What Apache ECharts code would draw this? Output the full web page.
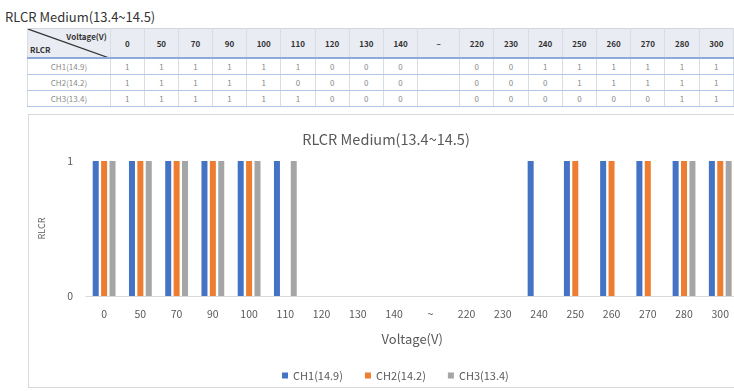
<!DOCTYPE html>
<html>
<head>
<meta charset="utf-8">
<script src="https://cdn.jsdelivr.net/npm/echarts@6/dist/echarts.min.js"></script>
<style>
  html, body { margin: 0; padding: 0; background: #fff; }
  body { width: 734px; height: 391px; overflow: hidden; position: relative;
         font-family: "Noto Sans CJK KR", "Noto Sans", sans-serif; }
  #heading { position: absolute; left: 5px; top: 7px; font-size: 13px; color: #333; white-space: nowrap; }
  #tbl { position: absolute; left: 27px; top: 28px; border-collapse: collapse; table-layout: fixed;
         font-size: 8px; color: #8a8a8a; }
  #tbl td, #tbl th { border-left: 1px solid #d8dce4; border-right: 1px solid #d8dce4; padding: 0;
                     text-align: center; white-space: nowrap; overflow: hidden; }
  #tbl th { background: #e9ecf2; color: #333; font-weight: bold; height: 28px; font-size: 8px;
            border-bottom: 2px solid #8eaadb; border-top: 1px solid #d0d5de; }
  #tbl td { height: 15px; border-bottom: 1px solid #b4c6e7; }
  #tbl th.corner { position: relative; text-align: left; }
  #tbl th.corner svg { position: absolute; left: 0; top: 0; }
  #tbl th.corner .v { position: absolute; right: 3px; top: 2px; }
  #tbl th.corner .r { position: absolute; left: 2px; bottom: 2px; }
  #chart { position: absolute; left: 28px; top: 114px; width: 716px; height: 274px;
           border: 1px solid #d9d9d9; box-sizing: border-box; }
</style>
</head>
<body>
<div id="heading">RLCR Medium(13.4~14.5)</div>
<table id="tbl"></table>
<div id="chart"></div>
<script>
// Voltage steps; "~" marks the skipped range between 140 V and 220 V
const categories = ['0', '50', '70', '90', '100', '110', '120', '130', '140', '~', '220', '230', '240', '250', '260', '270', '280', '300'];
const seriesNames = ['CH1(14.9)', 'CH2(14.2)', 'CH3(13.4)'];
const ch1 = [1, 1, 1, 1, 1, 1, 0, 0, 0, '-', 0, 0, 1, 1, 1, 1, 1, 1];
const ch2 = [1, 1, 1, 1, 1, 0, 0, 0, 0, '-', 0, 0, 0, 1, 1, 1, 1, 1];
const ch3 = [1, 1, 1, 1, 1, 1, 0, 0, 0, '-', 0, 0, 0, 0, 0, 0, 1, 1];
const colors = ['#4472C4', '#ED7D31', '#A5A5A5'];
const chartTitle = 'RLCR Medium(13.4~14.5)';
const xName = 'Voltage(V)';
const yName = 'RLCR';

// ---- summary table above the chart ----
const tbl = document.getElementById('tbl');
const colW = categories.map(c => (c === '~' ? 43 : 34.7));
let html = '<colgroup><col style="width:84px">' + colW.map(w => `<col style="width:${w}px">`).join('') + '</colgroup>';
html += '<tr><th class="corner"><svg width="84" height="30"><line x1="0" y1="0" x2="84" y2="30" stroke="#333" stroke-width="1.2"/></svg>' +
        '<span class="v">Voltage(V)</span><span class="r">RLCR</span></th>' +
        categories.map(c => `<th>${c === '~' ? '–' : c}</th>`).join('') + '</tr>';
[ch1, ch2, ch3].forEach((row, i) => {
  html += `<tr><td>${seriesNames[i]}</td>` + row.map(v => `<td>${v === '-' ? '' : v}</td>`).join('') + '</tr>';
});
tbl.innerHTML = html;

// ---- bar chart ----
const chart = echarts.init(document.getElementById('chart'), null, { renderer: 'canvas' });
const font = '"Noto Sans CJK KR", "Noto Sans", sans-serif';
const grey = '#595959';
chart.setOption({
  animation: false,
  textStyle: { fontFamily: font },
  title: {
    text: chartTitle, left: 'center', top: 12,
    textStyle: { fontSize: 14.5, fontWeight: 'normal', color: grey, fontFamily: font }
  },
  legend: {
    data: seriesNames, left: 248, top: 250, itemWidth: 6, itemHeight: 6, itemGap: 22,
    icon: 'rect', textStyle: { fontSize: 11, color: grey, fontFamily: font }
  },
  grid: { left: 47.6, right: 4.6, top: 46, bottom: 91, containLabel: false },
  xAxis: {
    type: 'category', data: categories,
    name: xName, nameLocation: 'middle', nameGap: 37,
    nameTextStyle: { fontSize: 13, color: grey, fontFamily: font },
    axisLine: { lineStyle: { color: '#d9d9d9' } },
    axisTick: { show: false },
    axisLabel: { fontSize: 10.5, color: grey, margin: 13, interval: 0 }
  },
  yAxis: {
    type: 'value', min: 0, max: 1, interval: 1,
    name: yName, nameLocation: 'middle', nameGap: 40,
    nameTextStyle: { fontSize: 9, color: grey, fontFamily: font },
    axisLine: { show: false }, axisTick: { show: false },
    splitLine: { show: false },
    axisLabel: { fontSize: 10.5, color: grey, margin: 13 }
  },
  series: [ch1, ch2, ch3].map((d, i) => ({
    name: seriesNames[i], type: 'bar', data: d,
    barWidth: 6, barGap: '40%',
    itemStyle: { color: colors[i] }
  }))
});
</script>
</body>
</html>
